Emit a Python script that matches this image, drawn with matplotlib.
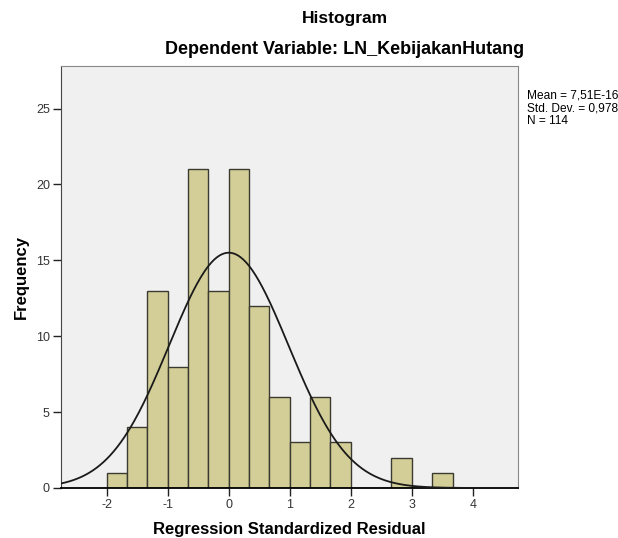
import matplotlib
matplotlib.use("Agg")
import matplotlib.pyplot as plt
import numpy as np

plt.rcParams['font.family'] = ['Liberation Sans', 'DejaVu Sans']

# histogram bins (width 1/3) and counts
bin_start = -2.0
bin_width = 1.0 / 3.0
counts = [1, 4, 13, 8, 21, 13, 21, 12, 6, 3, 6, 3, 0, 0, 2, 0, 1]
mean = 7.51e-16
std = 0.978
n = 114

edges = bin_start + bin_width * np.arange(len(counts))

fig = plt.figure(figsize=(6.18, 5.38), dpi=100)
ax = fig.add_axes([61/618, 50/538, 457/618, 422/538])
ax.set_facecolor('#F0F0F0')

ax.bar(edges, counts, width=bin_width, align='edge', color='#D3CE97',
       edgecolor='#3a3a30', linewidth=1.0, zorder=2)

xs = np.linspace(-2.75, 4.74, 400)
ys = n * bin_width * np.exp(-0.5 * ((xs - mean) / std) ** 2) / (std * np.sqrt(2 * np.pi))
ax.plot(xs, ys, color='#1a1a1a', linewidth=1.3, zorder=3)

ax.set_xlim(-2.75, 4.74)
ax.set_ylim(0, 27.8)
ax.set_xticks([-2, -1, 0, 1, 2, 3, 4])
ax.set_xticklabels(['-2', '-1', '0', '1', '2', '3', '4'])
ax.set_yticks([0, 5, 10, 15, 20, 25])
ax.tick_params(axis='both', labelsize=9, labelcolor='#333333', color='#222222',
               length=6, width=1, pad=2)
for s in ['top', 'right', 'left']:
    ax.spines[s].set_color('#888888')
ax.spines['left'].set_color('#444444')
ax.spines['bottom'].set_color('black')
ax.spines['bottom'].set_linewidth(1.3)

ax.set_xlabel('Regression Standardized Residual', fontsize=12, fontweight='bold', labelpad=8)
ax.set_ylabel('Frequency', fontsize=12, fontweight='bold', labelpad=5)

fig.text(345/618, 1 - 18/538, 'Histogram', ha='center', va='center',
         fontsize=12.5, fontweight='bold')
fig.text(345/618, 1 - 50/538, 'Dependent Variable: LN_KebijakanHutang', ha='center',
         va='center', fontsize=13, fontweight='bold')
fig.text(527/618, 1 - 89/538, 'Mean = 7,51E-16\nStd. Dev. = 0,978\nN = 114',
         ha='left', va='top', fontsize=8.6, linespacing=1.12)

fig.savefig('out.png', dpi=100)
